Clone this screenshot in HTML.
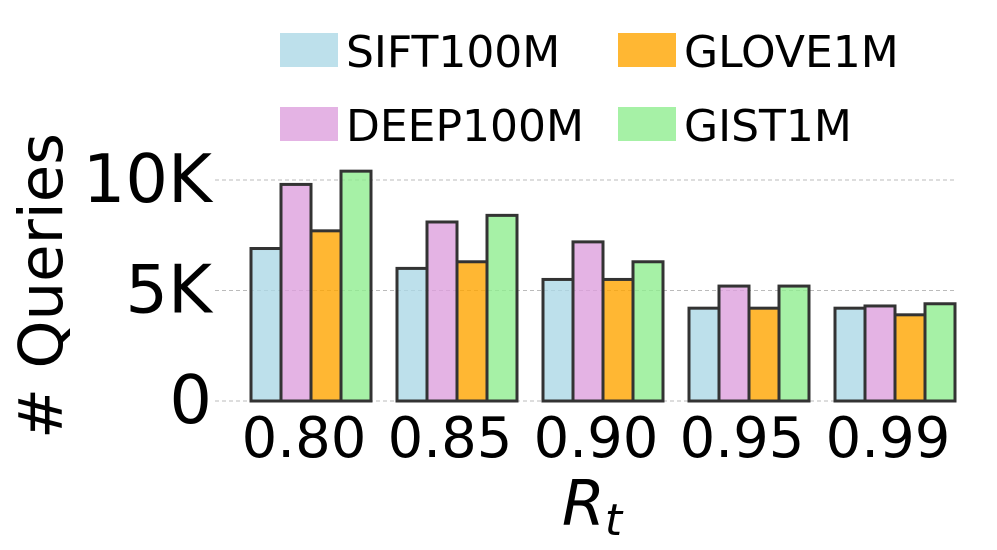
<!DOCTYPE html>
<html><head><meta charset="utf-8"><style>
body{margin:0;background:#fff}
svg{display:block;font-family:"DejaVu Sans","Liberation Sans",sans-serif}
</style></head><body>
<svg id="c" width="997" height="550" viewBox="0 0 997 550"></svg>
<script>
const categories=["0.80","0.85","0.90","0.95","0.99"];
const seriesNames=["SIFT100M","DEEP100M","GLOVE1M","GIST1M"];
const sift=[6.9,6.0,5.5,4.2,4.2];
const deep=[9.8,8.1,7.2,5.2,4.3];
const glove=[7.7,6.3,5.5,4.2,3.9];
const gist=[10.4,8.4,6.3,5.2,4.4];
const yTicks=[0,5,10];
const yTickLabels=["0","5K","10K"];
const colors=["#add8e6","#dda0dd","#ffa500","#90ee90"];
const series=[sift,deep,glove,gist];
const svg=document.getElementById('c');
const NS="http://www.w3.org/2000/svg";
function mk(t,a,p){const e=document.createElementNS(NS,t);for(const k in a)e.setAttribute(k,a[k]);(p||svg).appendChild(e);return e;}
const y0=401,pxPer=22.1;
function yS(v){return y0-v*pxPer;}
function xC(i){return 311+i*146;}
const bw=30;
yTicks.forEach((t,i)=>{
 const g=mk('line',{x1:215,x2:955,y1:yS(t),y2:yS(t),stroke:'#bbb','stroke-width':1,'stroke-dasharray':'4,3'});
 
 
 const tx=mk('text',{x:212,y:yS(t)+22,'text-anchor':'end','font-size':67,fill:'#000'});
 tx.textContent=yTickLabels[i];
 
 
});
categories.forEach((c,i)=>{
 series.forEach((s,j)=>{
  const x=xC(i)-2*bw+j*bw;
  const r=mk('rect',{x:x,y:yS(s[i]),width:bw,height:s[i]*pxPer,fill:colors[j],'fill-opacity':0.8,stroke:'#333','stroke-width':3});
  
  
 });
 const t=mk('text',{x:xC(i)-7,y:457,'text-anchor':'middle','font-size':56,fill:'#000'});
 t.textContent=c;
 
 
});
const yl=mk('text',{x:0,y:0,transform:'translate(62,286) rotate(-90)','text-anchor':'middle','font-size':61,fill:'#000'});
yl.textContent="# Queries";


const xl=mk('text',{x:592,y:525,'text-anchor':'middle','font-size':62,'font-style':'italic',fill:'#000'});
xl.innerHTML='R<tspan font-size="44" dy="10">t</tspan>';


const legPos=[[280,33],[280,107],[618,33],[618,107]];
seriesNames.forEach((n,j)=>{
 const p=legPos[j];
 const r=mk('rect',{x:p[0],y:p[1],width:58,height:34,fill:colors[j],'fill-opacity':0.8});
 
 
 const t=mk('text',{x:p[0]+66,y:p[1]+34,'font-size':44,fill:'#000'});
 t.textContent=n;
 
 
});
</script>
</body></html>
